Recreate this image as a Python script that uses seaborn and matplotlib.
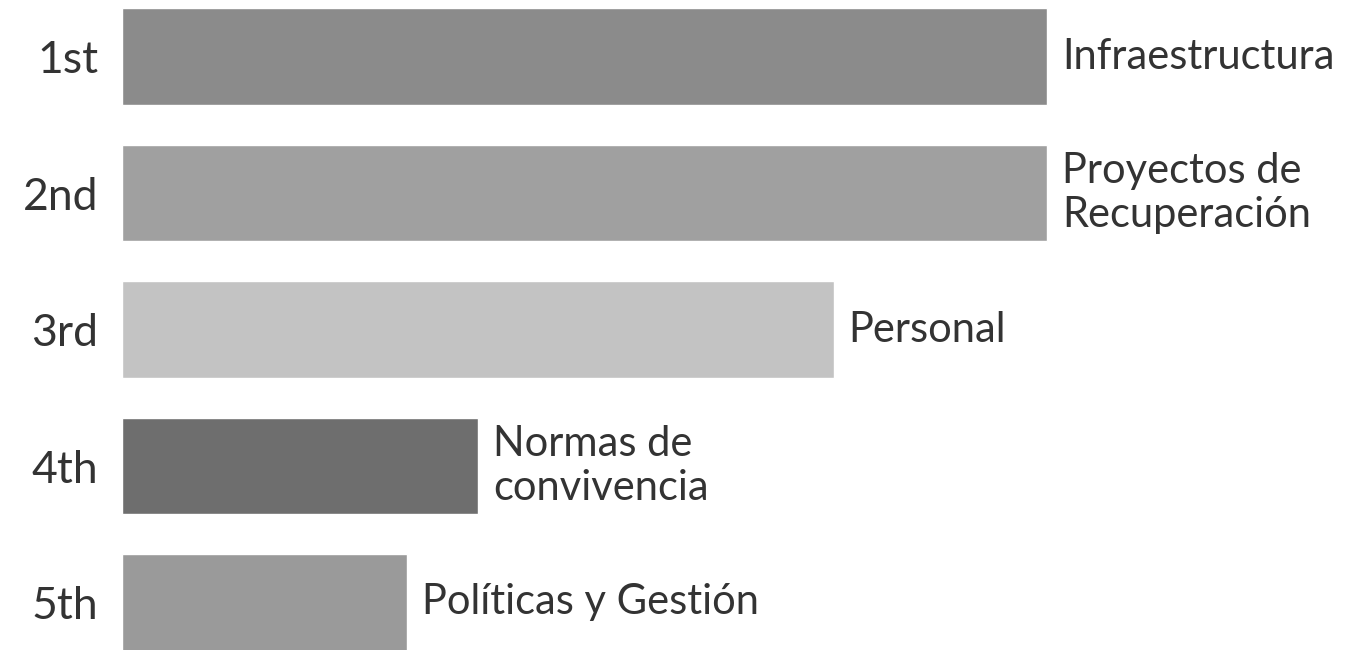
import matplotlib.pyplot as plt
import pandas as pd
import seaborn as sns

RANKS = ["1st", "2nd", "3rd", "4th", "5th"]
CATEGORIES = [
    "Infraestructura",
    "Proyectos de\nRecuperación",
    "Personal",
    "Normas de\nconvivencia",
    "Políticas y Gestión",
]
VALUES = [13, 13, 10, 5, 4]
COLORS = ["#8b8b8b", "#a0a0a0", "#c3c3c3", "#6e6e6e", "#9a9a9a"]

data = pd.DataFrame({"rank": RANKS, "category": CATEGORIES, "value": VALUES})

sns.set_theme(style="white")
plt.rcParams["font.family"] = ["Lato", "DejaVu Sans"]

fig = plt.figure(figsize=(13.61, 6.5), dpi=100)
ax = fig.add_axes([122 / 1361, 0, 1 - 122 / 1361, 1])

sns.barplot(
    data=data,
    x="value",
    y="rank",
    hue="rank",
    palette=COLORS,
    orient="h",
    width=0.71,
    legend=False,
    ax=ax,
)

xmax = max(VALUES) * 1239 / 925
ax.set_xlim(0, xmax)
ax.set_ylim(4.348, -0.414)
unit = xmax / 1239

for i, row in data.iterrows():
    ax.text(
        row["value"] + 15 * unit,
        i,
        row["category"],
        va="center",
        ha="left",
        fontsize=30,
        color="#333333",
        linespacing=1.2,
    )

ax.set_xlabel("")
ax.set_ylabel("")
ax.set_xticks([])
ax.tick_params(axis="y", length=0, pad=17, labelsize=32, labelcolor="#333333")
sns.despine(ax=ax, left=True, bottom=True)

fig.savefig("out.png", dpi=100)
